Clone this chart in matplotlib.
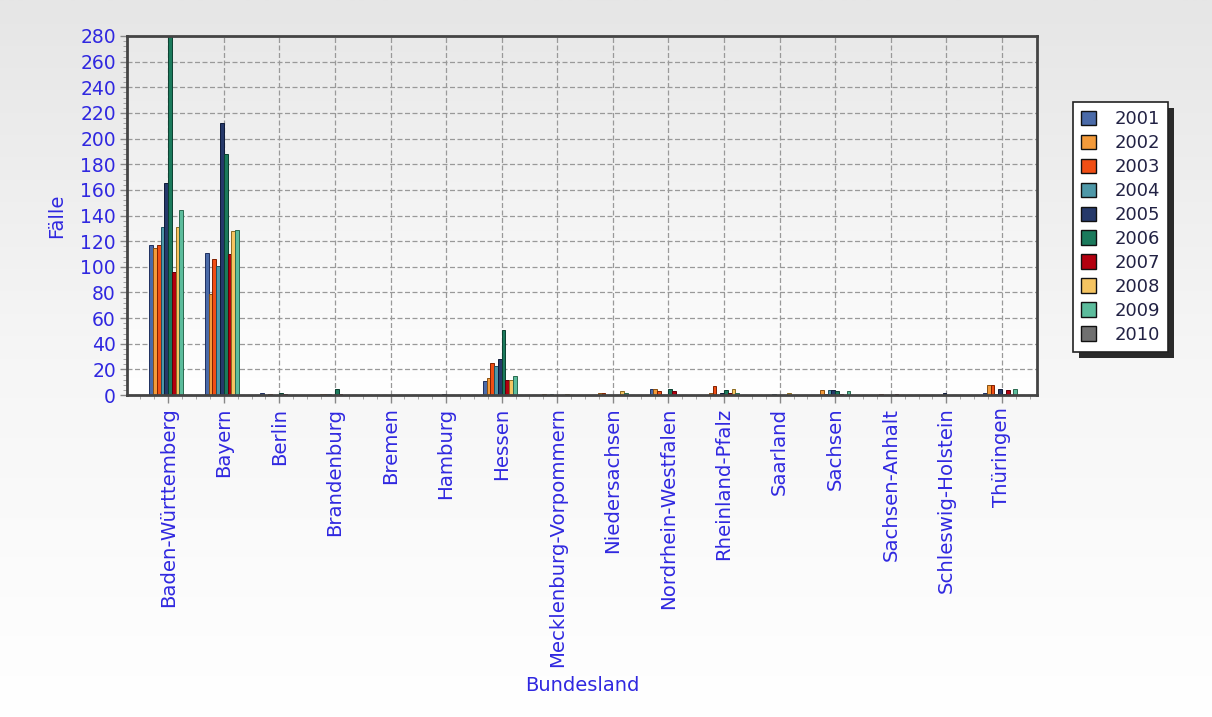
import numpy as np
import matplotlib
matplotlib.use("Agg")
import matplotlib.pyplot as plt
from matplotlib.patches import Rectangle, Patch
from matplotlib.ticker import MultipleLocator

states = ["Baden-Württemberg", "Bayern", "Berlin", "Brandenburg", "Bremen",
          "Hamburg", "Hessen", "Mecklenburg-Vorpommern", "Niedersachsen",
          "Nordrhein-Westfalen", "Rheinland-Pfalz", "Saarland", "Sachsen",
          "Sachsen-Anhalt", "Schleswig-Holstein", "Thüringen"]
years = ["2001", "2002", "2003", "2004", "2005", "2006", "2007", "2008", "2009", "2010"]

v2001 = [117, 111, 2, 0, 0, 0, 11, 0, 0, 5, 0, 0, 0, 0, 0, 2]
v2002 = [115, 79, 0, 1, 0, 0, 13, 1, 2, 5, 2, 0, 4, 0, 0, 8]
v2003 = [117, 106, 1, 1, 0, 0, 25, 0, 2, 3, 7, 0, 1, 1, 0, 8]
v2004 = [131, 101, 0, 1, 0, 0, 23, 1, 0, 0, 0, 1, 4, 0, 0, 1]
v2005 = [165, 212, 0, 0, 0, 1, 28, 0, 0, 0, 2, 0, 4, 0, 2, 5]
v2006 = [290, 188, 2, 5, 0, 0, 51, 0, 0, 5, 4, 0, 3, 0, 0, 1]
v2007 = [96, 110, 1, 1, 0, 0, 12, 0, 0, 3, 2, 0, 1, 1, 0, 4]
v2008 = [131, 128, 0, 0, 0, 0, 12, 1, 3, 0, 5, 2, 0, 0, 0, 0]
v2009 = [144, 129, 0, 0, 0, 0, 15, 0, 2, 0, 2, 0, 3, 0, 0, 5]
v2010 = [0] * 16
series = [v2001, v2002, v2003, v2004, v2005, v2006, v2007, v2008, v2009, v2010]

colors = ["#4a6aa8", "#f39a3a", "#f04e14", "#4e98a8", "#26396a",
          "#1b7a5c", "#b3000f", "#f5c461", "#5cbc9c", "#707070"]
edges = ["#1e3060", "#8a5010", "#802000", "#1e5060", "#0e1a38",
         "#0b4030", "#600008", "#8a6a20", "#2a6a50", "#303030"]

text_blue = "#3028e0"

fig = plt.figure(figsize=(12.12, 7.17), dpi=100)

# figure background: soft grey fading to white
bg = fig.add_axes([0, 0, 1, 1], zorder=-10)
grad = np.linspace(0, 1, 256).reshape(-1, 1)
bg.imshow(grad, aspect="auto", extent=[0, 1, 0, 1], origin="lower",
          cmap=matplotlib.colors.LinearSegmentedColormap.from_list(
              "bgfig", ["#ffffff", "#f6f6f6", "#e6e6e6"]))
bg.axis("off")

ax = fig.add_axes([0.1048, 0.449, 0.7508, 0.5008])
ax.set_facecolor("none")
ax.imshow(grad, aspect="auto", extent=[0, 1, 0, 1], origin="lower",
          transform=ax.transAxes, zorder=0,
          cmap=matplotlib.colors.LinearSegmentedColormap.from_list(
              "bgax", ["#ffffff", "#f4f4f4", "#e9e9e9"]))

x = np.arange(len(states))
n = len(years)
w = 0.068
for i, (vals, c, ec) in enumerate(zip(series, colors, edges)):
    offs = (i - (n - 1) / 2) * w
    ax.bar(x + offs, vals, width=w, color=c, edgecolor=ec, linewidth=0.7,
           zorder=3, label=years[i])

ax.set_xlim(-0.74, 15.63)
ax.set_ylim(0, 280)
ax.yaxis.set_major_locator(MultipleLocator(20))
ax.yaxis.set_minor_locator(MultipleLocator(4))
ax.set_xticks(x)
ax.set_xticklabels(states, rotation=90, color=text_blue, fontsize=14.2)
ax.xaxis.set_minor_locator(MultipleLocator(0.25))
ax.tick_params(axis="y", labelcolor=text_blue, labelsize=13.5, color="#888888",
               length=5, width=1, pad=3)
ax.tick_params(axis="y", which="minor", color="#999999", length=3)
ax.tick_params(axis="x", color="#888888", length=6, width=1, pad=3)
ax.tick_params(axis="x", which="minor", color="#999999", length=3)

ax.grid(True, which="major", linestyle=(0, (4, 2)), color="#999999",
        linewidth=0.9, zorder=1)
ax.set_axisbelow(True)
for s in ax.spines.values():
    s.set_color("#444444")
    s.set_linewidth(2)
    s.set_zorder(5)

ax.set_ylabel("Fälle", color=text_blue, fontsize=14, labelpad=10)
ax.set_xlabel("Bundesland", color=text_blue, fontsize=14, labelpad=6)

handles = [Patch(facecolor=c, edgecolor="#111111", linewidth=1) for c in colors]
leg = fig.legend(handles, years, loc="upper left",
                 bbox_to_anchor=(1073 / 1212, 1 - 102 / 717),
                 frameon=True, fancybox=False, framealpha=1, fontsize=13,
                 handlelength=0.85, handleheight=0.85, handletextpad=1.0,
                 labelspacing=0.33, borderpad=0.45, borderaxespad=0)
leg.get_frame().set_edgecolor("#222222")
leg.get_frame().set_linewidth(1.2)
leg.get_frame().set_facecolor("white")
leg.set_zorder(20)
for t in leg.get_texts():
    t.set_color("#222244")

# drop shadow behind the legend box
fig.canvas.draw()
bb = leg.get_window_extent()
shadow = Rectangle((bb.x0 + 6, bb.y0 - 6), bb.width, bb.height,
                   transform=None, facecolor="#2a2a2a", edgecolor="none",
                   zorder=19)
fig.add_artist(shadow)

fig.savefig("out.png", dpi=100)
